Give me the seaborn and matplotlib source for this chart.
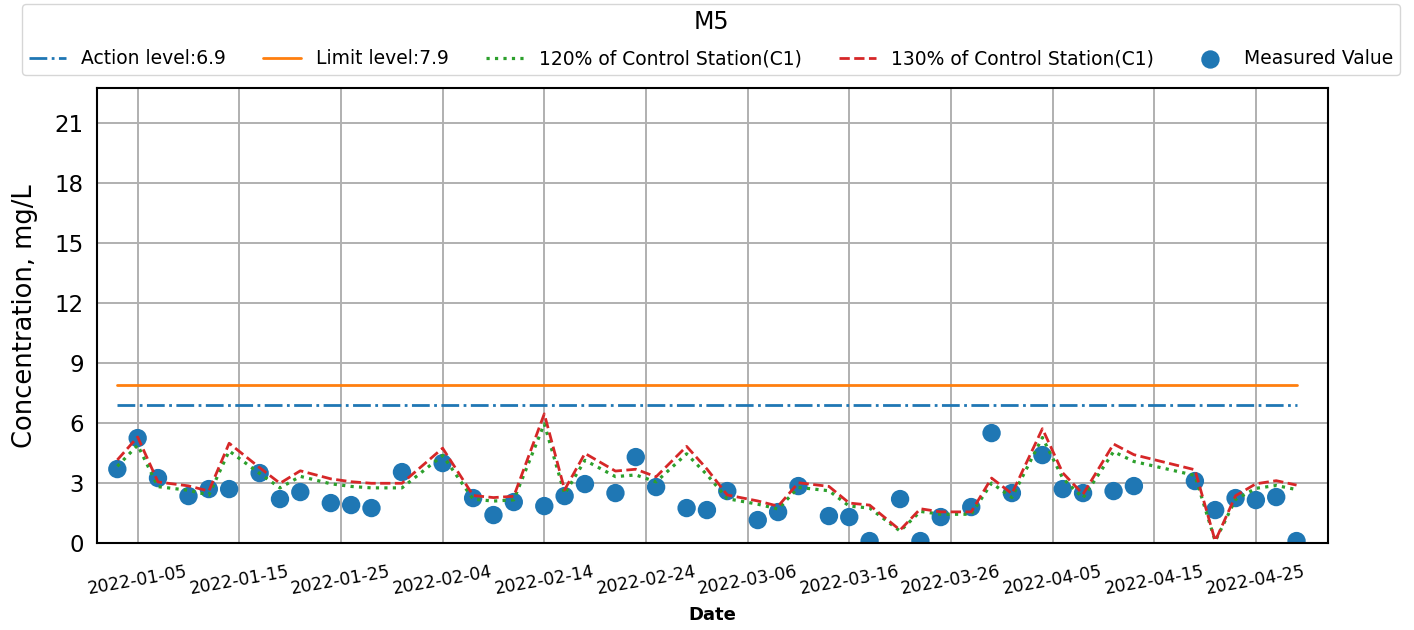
import matplotlib
matplotlib.use("Agg")
import matplotlib.pyplot as plt
import matplotlib.dates as mdates
import seaborn as sns
import pandas as pd
import numpy as np

# ---- data ----
dates = ["2022-01-03", "2022-01-05", "2022-01-07", "2022-01-10", "2022-01-12", "2022-01-14",
         "2022-01-17", "2022-01-19", "2022-01-21", "2022-01-24", "2022-01-26", "2022-01-28",
         "2022-01-31", "2022-02-04", "2022-02-07", "2022-02-09", "2022-02-11", "2022-02-14",
         "2022-02-16", "2022-02-18", "2022-02-21", "2022-02-23", "2022-02-25", "2022-02-28",
         "2022-03-02", "2022-03-04", "2022-03-07", "2022-03-09", "2022-03-11", "2022-03-14",
         "2022-03-16", "2022-03-18", "2022-03-21", "2022-03-23", "2022-03-25", "2022-03-28",
         "2022-03-30", "2022-04-01", "2022-04-04", "2022-04-06", "2022-04-08", "2022-04-11",
         "2022-04-13", "2022-04-19", "2022-04-21", "2022-04-23", "2022-04-25", "2022-04-27",
         "2022-04-29"]
measured = [3.7, 5.25, 3.25, 2.35, 2.7, 2.7,
            3.5, 2.2, 2.55, 2.0, 1.9, 1.75,
            3.55, 4.0, 2.25, 1.4, 2.05, 1.85,
            2.35, 2.95, 2.5, 4.3, 2.8, 1.75,
            1.65, 2.6, 1.15, 1.55, 2.85, 1.35,
            1.3, 0.1, 2.2, 0.1, 1.3, 1.8,
            5.5, 2.5, 4.4, 2.7, 2.5, 2.6,
            2.85, 3.1, 1.65, 2.25, 2.15, 2.3,
            0.1]
control_c1 = [3.2, 4.08, 2.35, 2.2, 2.0, 3.84,
              2.9, 2.3, 2.78, 2.47, 2.36, 2.3,
              2.3, 3.65, 1.83, 1.75, 1.8, 4.97,
              2.05, 3.45, 2.77, 2.84, 2.55, 3.72,
              2.85, 1.85, 1.62, 1.42, 2.32, 2.18,
              1.54, 1.46, 0.5, 1.32, 1.2, 1.2,
              2.5, 1.9, 4.4, 2.7, 1.88, 3.81,
              3.4, 2.82, 0.08, 1.82, 2.28, 2.4,
              2.23]
action_level = 6.9
limit_level = 7.9
station = "M5"
xtick_dates = ["2022-01-05", "2022-01-15", "2022-01-25", "2022-02-04", "2022-02-14",
               "2022-02-24", "2022-03-06", "2022-03-16", "2022-03-26", "2022-04-05",
               "2022-04-15", "2022-04-25"]
yticks = [0, 3, 6, 9, 12, 15, 18, 21]

df = pd.DataFrame({
    "Date": pd.to_datetime(dates),
    "Measured": measured,
    "C120": [1.2 * v for v in control_c1],
    "C130": [1.3 * v for v in control_c1],
    "Action": [action_level] * len(dates),
    "Limit": [limit_level] * len(dates),
})

sns.set_style("white")
plt.rcParams["font.family"] = ["DejaVu Sans"]
for k in ["text.color", "axes.labelcolor", "xtick.color", "ytick.color"]:
    plt.rcParams[k] = "black"

fig = plt.figure(figsize=(14.14, 6.3), dpi=100)
ax = fig.add_axes([0.0686, 0.138, 0.8705, 0.722])

c_blue, c_orange, c_green, c_red = "#1f77b4", "#ff7f0e", "#2ca02c", "#d62728"

sns.scatterplot(data=df, x="Date", y="Measured", ax=ax, s=175, color=c_blue,
                edgecolor="none", label="Measured Value", zorder=2)
sns.lineplot(data=df, x="Date", y="Action", ax=ax, color=c_blue, linestyle="-.",
             linewidth=2.0, label=f"Action level:{action_level}", zorder=3)
sns.lineplot(data=df, x="Date", y="Limit", ax=ax, color=c_orange, linestyle="-",
             linewidth=2.0, label=f"Limit level:{limit_level}", zorder=3)
sns.lineplot(data=df, x="Date", y="C120", ax=ax, color=c_green, linestyle=":",
             linewidth=2.3, label="120% of Control Station(C1)", zorder=3)
sns.lineplot(data=df, x="Date", y="C130", ax=ax, color=c_red, linestyle="--",
             linewidth=2.0, label="130% of Control Station(C1)", zorder=3)

ax.set_xlim(pd.Timestamp("2022-01-01"), pd.Timestamp("2022-05-02 02:00"))
ax.set_ylim(0, 22.75)
ax.set_yticks(yticks)
ax.set_xticks(pd.to_datetime(xtick_dates))
ax.xaxis.set_major_formatter(mdates.DateFormatter("%Y-%m-%d"))
ax.tick_params(axis="x", labelsize=12.5, length=6, width=1.3, pad=8)
ax.tick_params(axis="y", labelsize=16.5, length=6, width=1.3)
for lab in ax.get_xticklabels():
    lab.set_rotation(10)
    lab.set_ha("center")

ax.grid(True, color="#b0b0b0", linewidth=1.4)
ax.set_axisbelow(True)
for sp in ax.spines.values():
    sp.set_color("black")
    sp.set_linewidth(1.5)

ax.set_xlabel("Date", fontsize=13, fontweight="bold", labelpad=6)
ax.set_ylabel("Concentration, mg/L", fontsize=18.5, labelpad=12)

handles, labels = ax.get_legend_handles_labels()
order = [1, 2, 3, 4, 0]
ax.legend([handles[i] for i in order], [labels[i] for i in order],
          loc="lower left", bbox_to_anchor=(0.0156, 0.881, 0.9745, 0.111),
          bbox_transform=fig.transFigure, mode="expand", ncol=5,
          title=station, title_fontsize=17, fontsize=13.5, frameon=True,
          edgecolor="#cccccc", borderaxespad=0, handlelength=2.0,
          borderpad=0.35, labelspacing=0.8)

fig.savefig("out.png", dpi=100)
